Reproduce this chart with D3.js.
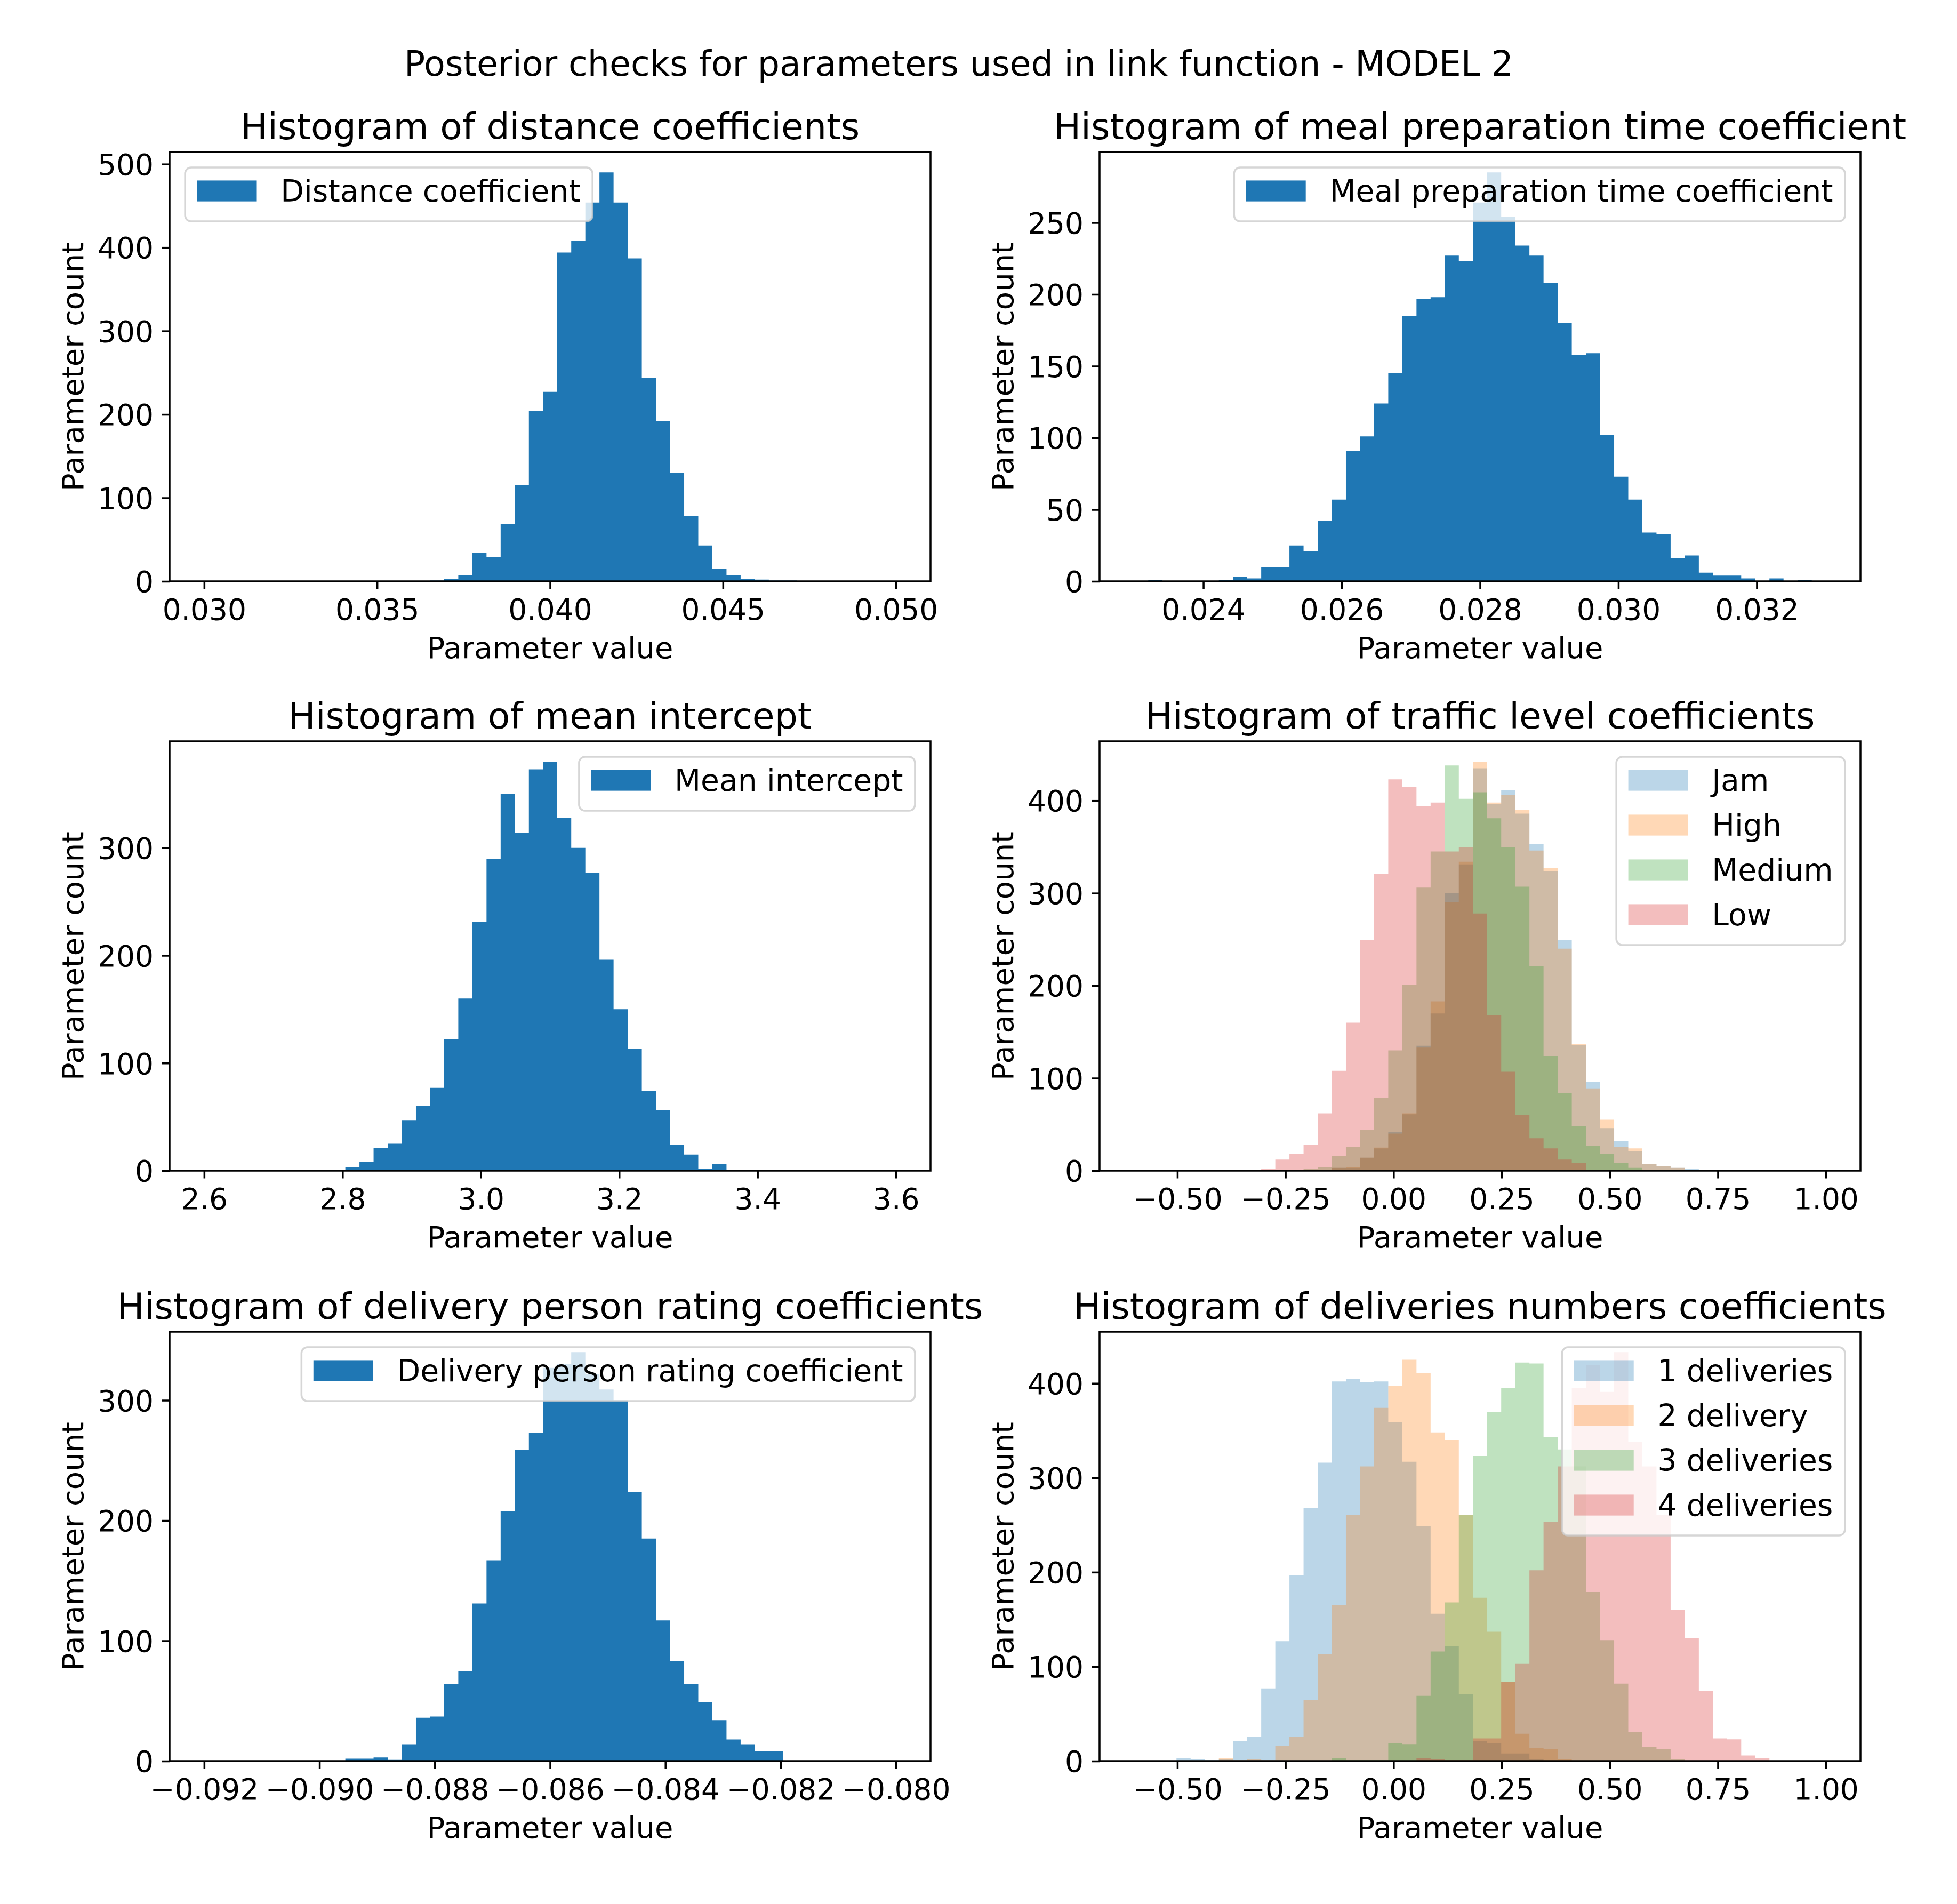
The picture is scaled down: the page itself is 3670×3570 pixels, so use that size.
<!DOCTYPE html>
<html>
<head>
<meta charset="utf-8">
<script src="https://cdn.jsdelivr.net/npm/d3@7"></script>
<style>
  body { margin: 0; background: #fff; }
  text { font-family: "DejaVu Sans", sans-serif; fill: #000; }
</style>
</head>
<body>
<svg id="chart" width="3670" height="3570"></svg>
<script>
const figTitle = "Posterior checks for parameters used in link function - MODEL 2";

// every histogram uses 49 bins between the range ends (np.linspace(lo, hi, 50))
const distanceRange = [0.03, 0.05];
const distanceCounts = [
  0, 0, 0, 0, 0, 0, 0, 0, 0, 0, 0, 0, 0, 0, 0, 0,
  1, 3, 7, 34, 29, 69, 115, 204, 227, 394, 408, 454, 490, 454, 387, 244, 192, 130, 78, 43, 15, 7, 3, 2, 1, 1,
  0, 0, 0, 0, 0, 0, 0
];
const distanceXTicks = [0.030, 0.035, 0.040, 0.045, 0.050];
const distanceYTicks = [0, 100, 200, 300, 400, 500];

const mealRange = [0.023, 0.033];
const mealCounts = [
  0, 1, 0, 0, 0, 0, 1, 3, 2, 10, 10, 25, 21, 42, 57, 91, 101, 124, 145, 185, 197, 198, 227, 223, 264,
  285, 254, 234, 227, 208, 180, 158, 159, 102, 73, 57, 34, 33, 16, 18, 6, 4, 4, 2, 0, 2, 0, 1, 0
];
const mealXTicks = [0.024, 0.026, 0.028, 0.030, 0.032];
const mealYTicks = [0, 50, 100, 150, 200, 250];

const interceptRange = [2.6, 3.6];
const interceptCounts = [
  0, 0, 0, 0, 0, 0, 0, 0, 0, 0,
  3, 8, 21, 25, 47, 60, 77, 122, 160, 231, 290, 350, 314, 373, 380, 328, 300, 277, 196, 150, 113, 74, 56, 24, 15, 2, 6,
  0, 0, 0, 0, 0, 0, 0, 0, 0, 0, 0, 0
];
const interceptXTicks = [2.6, 2.8, 3.0, 3.2, 3.4, 3.6];
const interceptYTicks = [0, 100, 200, 300];

const trafficRange = [-0.6, 1.0];
const trafficLabels = ["Jam", "High", "Medium", "Low"];
const trafficJam = [
  0, 0, 0, 0, 0, 0, 0, 0, 0, 0, 0, 0, 0, 0,
  3, 3, 14, 24, 42, 61, 135, 170, 300, 331, 435, 396, 411, 386, 353, 324, 249, 136, 96, 46, 32, 21, 7, 5, 3, 2,
  0, 0, 0, 0, 0, 0, 0, 0, 0
];
const trafficHigh = [
  0, 0, 0, 0, 0, 0, 0, 0, 0, 0, 0, 0, 0, 0,
  3, 4, 14, 25, 40, 62, 133, 183, 290, 334, 442, 398, 406, 390, 346, 327, 240, 137, 89, 55, 26, 24, 7, 5, 3, 1, 1,
  0, 0, 0, 0, 0, 0, 0, 0
];
const trafficMedium = [
  0, 0, 0, 0, 0, 0, 0, 0, 0, 0, 0, 0,
  2, 4, 16, 26, 44, 79, 130, 201, 306, 345, 438, 402, 409, 381, 350, 307, 221, 124, 84, 48, 27, 18, 8, 3, 0, 1,
  0, 0, 0, 0, 0, 0, 0, 0, 0, 0, 0
];
const trafficLow = [
  0, 0, 0, 0, 0, 0, 0, 0,
  1, 2, 12, 18, 28, 62, 108, 160, 249, 321, 423, 415, 394, 398, 345, 350, 278, 168, 107, 60, 35, 24, 12, 8, 0, 1,
  0, 0, 0, 0, 0, 0, 0, 0, 0, 0, 0, 0, 0, 0, 0
];
const signedXTicks = [-0.5, -0.25, 0, 0.25, 0.5, 0.75, 1.0];
const trafficYTicks = [0, 100, 200, 300, 400];

const ratingRange = [-0.092, -0.080];
const ratingCounts = [
  0, 0, 0, 0, 0, 0, 0, 0, 0, 0,
  2, 2, 3, 1, 14, 36, 37, 64, 75, 131, 167, 208, 259, 273, 327, 330, 340, 322, 309, 300, 224, 185, 117, 83, 64, 49, 34, 18, 14, 8, 8,
  0, 0, 0, 0, 0, 0, 0, 0
];
const ratingXTicks = [-0.092, -0.090, -0.088, -0.086, -0.084, -0.082, -0.080];
const ratingYTicks = [0, 100, 200, 300];

const deliveriesRange = [-0.6, 1.0];
const deliveriesLabels = ["1 deliveries", "2 delivery", "3 deliveries", "4 deliveries"];
const deliveries1 = [
  0, 0, 0,
  3, 2, 1, 2, 21, 26, 77, 127, 197, 268, 316, 402, 405, 401, 402, 359, 317, 249, 156, 122, 71, 21, 19, 8, 8, 2,
  0, 0, 0, 0, 0, 0, 0, 0, 0, 0, 0, 0, 0, 0, 0, 0, 0, 0, 0, 0
];
const deliveries2 = [
  0, 0, 0, 0, 0, 0,
  3, 1, 2, 1, 16, 26, 65, 113, 165, 261, 312, 374, 397, 425, 411, 348, 340, 261, 173, 137, 84, 29, 14, 13, 2,
  0, 0, 0, 0, 0, 0, 0, 0, 0, 0, 0, 0, 0, 0, 0, 0, 0, 0
];
const deliveries3 = [
  0, 0, 0, 0, 0, 0, 0, 0, 0, 0, 0, 0, 0, 0,
  3, 1, 1, 1, 19, 18, 69, 116, 168, 261, 323, 370, 395, 422, 421, 343, 330, 312, 179, 128, 82, 31, 15, 13, 2,
  0, 0, 0, 0, 0, 0, 0, 0, 0, 0
];
const deliveries4 = [
  0, 0, 0, 0, 0, 0, 0, 0, 0, 0, 0, 0, 0, 0, 0, 0, 0, 0, 0, 0,
  3, 2, 1, 1, 24, 24, 84, 103, 202, 253, 312, 395, 419, 391, 433, 338, 312, 261, 160, 130, 74, 24, 23, 6, 3,
  0, 0, 0, 0
];
const deliveriesYTicks = [0, 100, 200, 300, 400];

const tab10 = ["#1f77b4", "#ff7f0e", "#2ca02c", "#d62728"];

const panels = [
  { title: "Histogram of distance coefficients", range: distanceRange, xTicks: distanceXTicks, yTicks: distanceYTicks,
    fmt: ".3f", legendLeft: true, alpha: 1,
    series: [{ label: "Distance coefficient", counts: distanceCounts }] },
  { title: "Histogram of meal preparation time coefficient", range: mealRange, xTicks: mealXTicks, yTicks: mealYTicks,
    fmt: ".3f", alpha: 1,
    series: [{ label: "Meal preparation time coefficient", counts: mealCounts }] },
  { title: "Histogram of mean intercept", range: interceptRange, xTicks: interceptXTicks, yTicks: interceptYTicks,
    fmt: ".1f", alpha: 1,
    series: [{ label: "Mean intercept", counts: interceptCounts }] },
  { title: "Histogram of traffic level coefficients", range: trafficRange, xTicks: signedXTicks, yTicks: trafficYTicks,
    fmt: ".2f", alpha: 0.3,
    series: [trafficJam, trafficHigh, trafficMedium, trafficLow].map((c, i) => ({ label: trafficLabels[i], counts: c })) },
  { title: "Histogram of delivery person rating coefficients", range: ratingRange, xTicks: ratingXTicks, yTicks: ratingYTicks,
    fmt: ".3f", alpha: 1,
    series: [{ label: "Delivery person rating coefficient", counts: ratingCounts }] },
  { title: "Histogram of deliveries numbers coefficients", range: deliveriesRange, xTicks: signedXTicks, yTicks: deliveriesYTicks,
    fmt: ".2f", alpha: 0.3,
    series: [deliveries1, deliveries2, deliveries3, deliveries4].map((c, i) => ({ label: deliveriesLabels[i], counts: c })) }
];

// layout in pixels
const axLeft = [318, 2062];
const axTop = [285, 1390, 2497];
const W = 1427, H = 805;
const tickFont = 55, labelFont = 56, titleFont = 68, legendFont = 56.8;

const svg = d3.select("#chart");
svg.append("rect").attr("width", 3670).attr("height", 3570).attr("fill", "#fff");

svg.append("text")
  .attr("x", 1798).attr("y", 142)
  .attr("text-anchor", "middle")
  .attr("font-size", 65)
  .text(figTitle);

panels.forEach((p, i) => drawPanel(p, i));

function drawPanel(p, idx) {
  const col = idx % 2, row = Math.floor(idx / 2);
  const g = svg.append("g").attr("transform", `translate(${axLeft[col]},${axTop[row]})`);

  const [lo, hi] = p.range;
  const pad = 0.05 * (hi - lo);
  const x = d3.scaleLinear().domain([lo - pad, hi + pad]).range([0, W]);
  const ymax = 1.05 * d3.max(p.series, s => d3.max(s.counts));
  const y = d3.scaleLinear().domain([0, ymax]).range([H, 0]);

  const nb = p.series[0].counts.length;
  const edges = d3.range(nb + 1).map(i => lo + i * (hi - lo) / nb);

  const area = d3.area()
    .x(d => x(d[0]))
    .y0(y(0))
    .y1(d => y(d[1]))
    .curve(d3.curveStepAfter);

  p.series.forEach((s, si) => {
    const pts = s.counts.map((c, i) => [edges[i], c]);
    pts.push([edges[nb], s.counts[nb - 1]]);
    g.append("path")
      .attr("d", area(pts))
      .attr("fill", tab10[si])
      .attr("fill-opacity", p.alpha);
  });

  const xAxis = d3.axisBottom(x)
    .tickValues(p.xTicks)
    .tickFormat(d3.format(p.fmt))
    .tickSize(14.5)
    .tickPadding(15.5);
  const gx = g.append("g").attr("transform", `translate(0,${H})`).call(xAxis);
  styleAxis(gx);
  gx.selectAll(".tick text").attr("dy", "0.76em");

  const yAxis = d3.axisLeft(y)
    .tickValues(p.yTicks)
    .tickSize(14.5)
    .tickPadding(15.5);
  const gy = g.append("g").call(yAxis);
  styleAxis(gy);
  gy.selectAll(".tick text").attr("dy", "0.36em");

  g.append("rect")
    .attr("width", W).attr("height", H)
    .attr("fill", "none")
    .attr("stroke", "#000")
    .attr("stroke-width", 3.5);

  g.append("text")
    .attr("x", W / 2).attr("y", -24)
    .attr("text-anchor", "middle")
    .attr("font-size", titleFont)
    .text(p.title);

  g.append("text")
    .attr("x", W / 2).attr("y", H + 144)
    .attr("text-anchor", "middle")
    .attr("font-size", labelFont)
    .text("Parameter value");

  g.append("text")
    .attr("transform", `translate(-162,${H / 2}) rotate(-90)`)
    .attr("text-anchor", "middle")
    .attr("font-size", labelFont)
    .text("Parameter count");

  drawLegend(g, p);
}

function styleAxis(ga) {
  ga.attr("font-family", "DejaVu Sans").attr("font-size", tickFont);
  ga.select(".domain").remove();
  ga.selectAll(".tick line").attr("stroke", "#000").attr("stroke-width", 3.5);
  ga.selectAll(".tick text").attr("fill", "#000");
}

function drawLegend(g, p) {
  const fs = 56;
  const pad = 0.4 * fs, handleW = 2 * fs, handleH = 0.7 * fs, gap = 0.8 * fs;
  const rowStep = 1.5 * fs, axPad = 0.52 * fs;
  const n = p.series.length;

  const lg = g.append("g");
  const frame = lg.append("rect");
  const texts = p.series.map((s, i) => lg.append("text")
    .attr("font-size", legendFont)
    .attr("y", 63.5 + i * rowStep)
    .text(s.label));
  const textW = d3.max(texts, t => t.node().getComputedTextLength());
  const fw = textW + 2 * pad + handleW + gap;
  const fh = 2 * pad + n * fs + (n - 1) * 0.5 * fs;

  texts.forEach(t => t.attr("x", pad + handleW + gap));
  p.series.forEach((s, i) => {
    lg.append("rect")
      .attr("x", pad)
      .attr("y", 63.5 + i * rowStep - handleH)
      .attr("width", handleW)
      .attr("height", handleH)
      .attr("fill", tab10[i])
      .attr("fill-opacity", p.alpha);
  });
  texts.forEach(t => t.raise());

  frame.attr("width", fw).attr("height", fh)
    .attr("rx", 0.2 * fs).attr("ry", 0.2 * fs)
    .attr("fill", "#fff").attr("fill-opacity", 0.8)
    .attr("stroke", "#ccc").attr("stroke-opacity", 0.8)
    .attr("stroke-width", 3.5);

  const lx = p.legendLeft ? axPad : W - axPad - fw;
  lg.attr("transform", `translate(${lx},${axPad})`);
}
</script>
</body>
</html>
